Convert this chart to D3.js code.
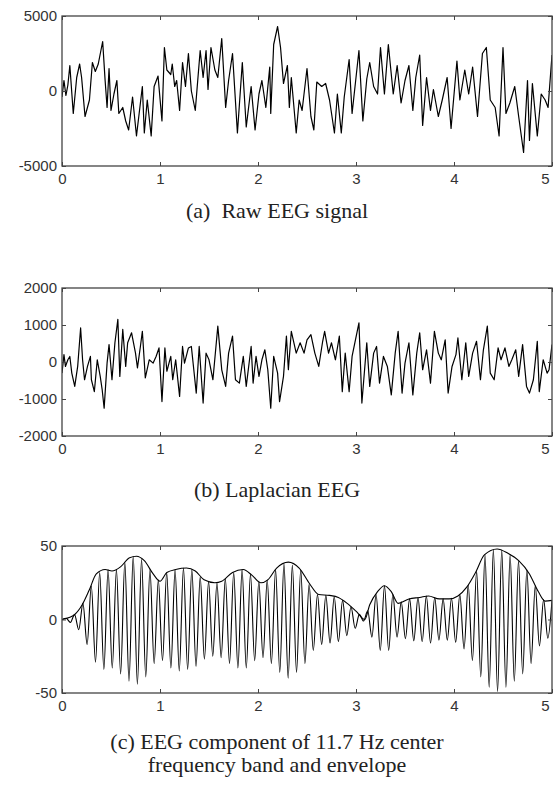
<!DOCTYPE html>
<html>
<head>
<meta charset="utf-8">
<script src="https://cdn.jsdelivr.net/npm/d3@7"></script>
<style>
  body { margin: 0; background: #fff; }
  .axis text { font-family: "Liberation Sans", Arial, sans-serif; font-size: 15px; fill: #333; }
  .axis line { stroke: #444; }
  .caption { font-family: "Liberation Serif", "Times New Roman", serif; font-size: 22px; fill: #222; }
</style>
</head>
<body>
<div id="chart"></div>
<script>
// ---- DATA ----
// x ticks (seconds), shared by all panels
let xTicks = [0, 1, 2, 3, 4, 5];

// (a) raw EEG: sample times (s) and amplitudes
let tA = [0.00,0.02,0.04,0.06,0.08,0.115,0.15,0.18,0.20,0.235,0.28,0.31,0.34,0.37,0.415,0.44,0.46,0.48,0.50,0.53,
  0.56,0.58,0.62,0.65,0.68,0.72,0.76,0.82,0.84,0.87,0.91,0.94,0.98,1.02,1.045,1.07,1.11,1.125,1.15,1.17,
  1.20,1.23,1.26,1.29,1.32,1.36,1.41,1.44,1.47,1.49,1.52,1.56,1.59,1.63,1.67,1.70,1.74,1.79,1.84,1.88,
  1.93,1.97,2.01,2.04,2.08,2.12,2.13,2.16,2.20,2.23,2.26,2.30,2.32,2.34,2.39,2.42,2.45,2.50,2.54,2.57,
  2.60,2.65,2.69,2.73,2.78,2.81,2.85,2.88,2.93,2.96,3.03,3.07,3.11,3.14,3.18,3.22,3.25,3.29,3.33,3.38,
  3.42,3.46,3.50,3.54,3.58,3.61,3.65,3.68,3.72,3.76,3.79,3.84,3.88,3.93,3.97,4.03,4.06,4.11,4.15,4.19,
  4.24,4.29,4.33,4.37,4.42,4.46,4.50,4.53,4.57,4.62,4.66,4.71,4.75,4.77,4.80,4.85,4.89,4.93,4.96,5.00];
let vA = [-400,700,-300,400,1700,-1500,900,1800,900,-1700,-600,1900,1300,1800,3300,700,-1100,1500,-1300,-200,
  700,-1500,-1100,-2000,-2600,-400,-3000,300,-2800,-600,-3000,300,1000,-2000,2900,1400,1100,1800,300,700,
  -1300,1900,300,2500,0,-1300,2700,900,2700,100,2900,1400,900,3500,-1100,700,2500,-2800,1900,-2400,
  300,-2600,-200,700,-1100,1600,-1500,3100,4300,2900,500,1700,-1100,900,-2800,-600,-1300,1500,-1700,-2600,
  600,300,500,-600,-2800,-200,-2800,-400,2100,-1500,2700,-2000,800,1900,300,-200,2900,-200,3100,-200,
  1700,-800,700,1700,-1300,900,2400,-2300,900,-1300,100,-1700,-600,900,-2500,2000,-600,1400,-200,1600,
  -1700,2500,2900,-600,-1100,-3000,2900,-1500,-800,300,-1700,-4100,700,-3300,500,-3000,-200,-600,-1100,2400];
let yTicksA = [-5000, 0, 5000];

// (b) Laplacian EEG
let tB = [0.00,0.02,0.035,0.06,0.08,0.10,0.13,0.16,0.19,0.21,0.23,0.26,0.29,0.30,0.33,0.36,0.39,0.41,0.43,0.46,
  0.48,0.51,0.54,0.57,0.59,0.62,0.65,0.67,0.71,0.75,0.77,0.80,0.82,0.85,0.89,0.93,0.96,0.99,1.02,1.05,
  1.07,1.11,1.13,1.16,1.20,1.23,1.25,1.29,1.32,1.37,1.40,1.44,1.47,1.50,1.54,1.59,1.63,1.67,1.70,1.74,
  1.77,1.81,1.85,1.88,1.93,1.95,1.98,2.01,2.04,2.07,2.10,2.13,2.16,2.20,2.22,2.26,2.29,2.31,2.34,2.39,
  2.43,2.47,2.50,2.54,2.58,2.62,2.66,2.68,2.72,2.75,2.79,2.83,2.86,2.89,2.93,2.96,3.03,3.06,3.11,3.14,
  3.18,3.21,3.24,3.28,3.32,3.36,3.40,3.43,3.47,3.50,3.54,3.58,3.62,3.65,3.68,3.72,3.76,3.80,3.84,3.87,
  3.91,3.94,3.98,4.02,4.04,4.08,4.12,4.15,4.19,4.23,4.27,4.30,4.34,4.37,4.41,4.45,4.48,4.52,4.56,4.59,
  4.63,4.66,4.70,4.74,4.77,4.81,4.85,4.87,4.91,4.95,4.97,5.00];
let vB = [-300,200,-120,60,150,-300,-660,-120,920,60,-480,-120,150,-480,-800,60,-390,-750,-1250,-30,
  470,-480,520,1150,-390,880,-120,520,790,240,-160,420,830,-430,60,-30,150,380,-1070,380,
  -250,150,-480,60,-930,420,-30,380,420,-840,420,-1110,240,60,-480,970,-210,-660,240,700,
  -480,-570,150,-660,420,-570,150,-390,60,330,-210,-1250,150,-300,-1070,-390,700,-210,830,240,
  520,240,600,740,240,-120,560,830,240,520,60,700,-800,240,-800,150,1060,-1110,520,-660,
  240,420,-570,150,-120,-890,240,830,-840,-30,520,-890,240,790,-210,330,-570,830,240,60,
  600,-840,-120,200,650,-480,520,-390,240,560,-480,330,970,-300,-480,380,60,380,-120,60,
  330,-390,470,-660,-840,-480,560,-800,60,-300,-210,470];
let yTicksB = [-2000, -1000, 0, 1000, 2000];

// (c) 11.7 Hz band component: successive peaks/troughs, half a period apart
let dtC = 1 / 23.4;
let vC = [0,0.8,-2,3.3,-7,11,-17,23,-29,32,-34,34,-33,34,-37,39,-42,43,-44,41,
  -39,34,-30,27,-28,32,-33,34,-35,35,-34,34,-32,29,-27,26,-25,25,-26,28,
  -30,32,-33,34,-33,31,-28,26,-26,27,-30,34,-36,38,-40,37,-36,34,-30,24,
  -21,17,-17,16.5,-16,15.5,-15,13,-11,8.7,-6,3.5,-1,6,-12,17,-21,23,-21,17,
  -12,12,-13,14,-14.5,15,-15,16,-16,15,-14,14,-14,14.5,-15.5,17,-20,23.5,-28,33,
  -39,44,-46,47.5,-49,47,-46,44,-42,40,-37,34,-30,23,-18,13.5,-12.7,13];
// envelope of (c)
let tEnv = [0,0.08,0.13,0.206,0.278,0.35,0.44,0.51,0.6,0.69,0.76,0.84,0.93,1.0,1.07,1.16,1.27,1.36,1.45,1.56,
  1.63,1.74,1.85,1.94,2.03,2.1,2.19,2.31,2.42,2.53,2.62,2.73,2.82,2.91,3.0,3.09,3.14,3.22,3.29,3.36,
  3.43,3.54,3.65,3.74,3.85,3.95,4.04,4.13,4.22,4.31,4.44,4.55,4.66,4.77,4.86,4.93,5.0];
let vEnv = [0,1.5,3.4,10,20,31,34,33,36,42,43,40,31,26,32,34,35,33,27,25,
  26,32,34,30,25,27,35,39,35,24,17,16.4,15,11,5.7,0,10,19,23,19,
  11,14,15,16,14,14,16,22,32,44,48,45,40,31,19,12.5,13];
let yTicksC = [-50, 0, 50];

// ---- LAYOUT ----
let W = 553, H = 788;
let left = 62, right = 552;

let svg = d3.select("#chart").append("svg")
    .attr("width", W)
    .attr("height", H);

let x = d3.scaleLinear().domain([0, 5]).range([left, right]);

function drawPanel(id, top, bottom, yDomain, yTicks, series) {
    let y = d3.scaleLinear().domain(yDomain).range([bottom, top]);

    svg.append("clipPath").attr("id", "clip" + id)
        .append("rect")
        .attr("x", left).attr("y", top)
        .attr("width", right - left).attr("height", bottom - top);

    let g = svg.append("g");

    // traces
    series.forEach(s => {
        let line = d3.line()
            .x(d => x(d[0]))
            .y(d => y(d[1]))
            .curve(s.curve);
        g.append("path")
            .datum(s.data)
            .attr("clip-path", "url(#clip" + id + ")")
            .attr("fill", "none")
            .attr("stroke", "#000")
            .attr("stroke-width", s.width)
            .attr("stroke-linejoin", "round")
            .attr("d", line);
    });

    // axes, matlab style: inward ticks on all four sides
    let fmt = d3.format("d");
    g.append("g").attr("class", "axis x-axis")
        .attr("transform", "translate(0," + bottom + ")")
        .call(d3.axisBottom(x).tickValues(xTicks).tickSize(-4).tickSizeOuter(0).tickPadding(7).tickFormat(fmt));
    g.append("g").attr("class", "axis")
        .attr("transform", "translate(0," + top + ")")
        .call(d3.axisTop(x).tickValues(xTicks).tickSize(-4).tickSizeOuter(0).tickFormat(""));
    g.append("g").attr("class", "axis")
        .attr("transform", "translate(" + left + ",0)")
        .call(d3.axisLeft(y).tickValues(yTicks).tickSize(-4).tickSizeOuter(0).tickPadding(5).tickFormat(fmt));
    g.append("g").attr("class", "axis")
        .attr("transform", "translate(" + right + ",0)")
        .call(d3.axisRight(y).tickValues(yTicks).tickSize(-4).tickSizeOuter(0).tickFormat(""));
    g.selectAll(".axis .domain").remove();
    g.selectAll(".axis text").text(function () { return this.textContent.replace("−", "-"); });
    // last x label sits at the page edge: keep it inside
    g.selectAll(".x-axis .tick text")
        .filter(d => d === 5)
        .attr("text-anchor", "end")
        .attr("dx", -3);

    // frame
    g.append("rect")
        .attr("x", left).attr("y", top)
        .attr("width", right - left).attr("height", bottom - top)
        .attr("fill", "none")
        .attr("stroke", "#444")
        .attr("stroke-width", 1.3);
}

drawPanel("a", 16, 166, [-5000, 5000], yTicksA, [
    {data: tA.map((t, i) => [t, vA[i]]), curve: d3.curveLinear, width: 1.2}
]);
drawPanel("b", 288, 436, [-2000, 2000], yTicksB, [
    {data: tB.map((t, i) => [t, vB[i]]), curve: d3.curveLinear, width: 1.2}
]);
drawPanel("c", 546, 693, [-50, 50], yTicksC, [
    {data: vC.map((v, i) => [i * dtC, v]), curve: d3.curveMonotoneX, width: 1.1},
    {data: tEnv.map((t, i) => [t, vEnv[i]]), curve: d3.curveMonotoneX, width: 1.1}
]);

// captions
let captions = [
    {text: "(a)\u00a0\u00a0Raw EEG signal", y: 218},
    {text: "(b) Laplacian EEG", y: 497},
    {text: "(c) EEG component of 11.7 Hz center", y: 749},
    {text: "frequency band and envelope", y: 772}
];
svg.selectAll(".caption")
    .data(captions)
    .enter()
    .append("text")
    .attr("class", "caption")
    .attr("x", 277)
    .attr("y", d => d.y)
    .attr("text-anchor", "middle")
    .text(d => d.text);
</script>
</body>
</html>
